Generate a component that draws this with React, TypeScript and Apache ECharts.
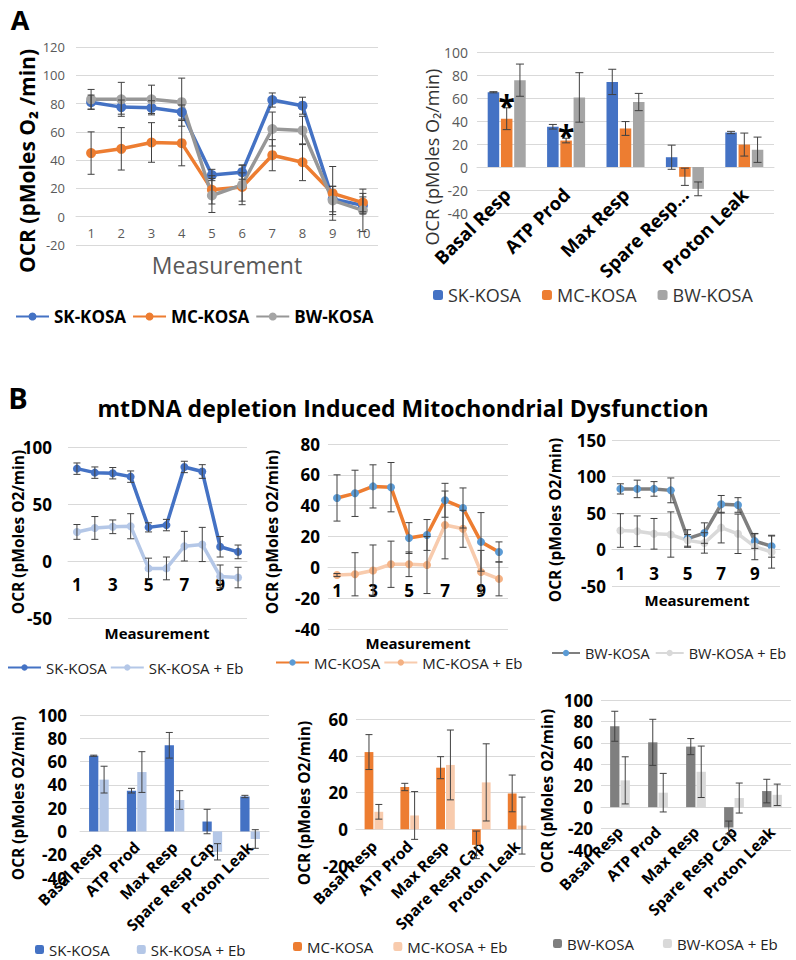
import React, { useEffect, useRef } from 'react';
import * as echarts from 'echarts';

const FONT = "'Open Sans', sans-serif";

const measurements = ['1', '2', '3', '4', '5', '6', '7', '8', '9', '10'];
const params = ['Basal Resp', 'ATP Prod', 'Max Resp', 'Spare Resp Cap', 'Proton Leak'];

// Panel A / B line data (OCR per measurement)
const skLine = [81, 77.5, 77, 74, 29.5, 31.5, 82.5, 78.5, 12.5, 8];
const skLineErr = [5, 5, 5, 5, 4, 5, 5, 6, 9, 6];
const mcLine = [45, 48, 52.5, 52, 19, 21, 43.5, 38.5, 16.5, 10];
const mcLineErr = [15, 15, 14, 16, 10, 10, 11, 13, 19, 6.5];
const bwLine = [83, 83, 83, 81, 15, 22.5, 62, 61, 11.5, 4.5];
const bwLineErr = [7, 12, 10, 17, 12, 14, 12, 10, 10, 15];
const skEbLine = [25.5, 29, 30, 30.5, -6.5, -6.5, 13, 14.5, -13.5, -14.5];
const skEbLineErr = [6.5, 10, 6, 11, 9, 10, 13, 15, 10, 9];
const mcEbLine = [-5, -4.5, -2, 2, 2, 1.5, 27.5, 25, -3, -7.5];
const mcEbLineErr = [1, 14, 16.5, 15, 8, 18.5, 22, 12, 14, 11];
const bwEbLine = [26, 25, 21.5, 20.5, 12.5, 9, 30, 21.5, 4, -3.5];
const bwEbLineErr = [23, 21, 21, 31, 8, 14, 21, 27, 18, 22];

// Bar data (OCR per parameter)
const skBar = [65, 35, 74, 8.5, 30];
const skBarErr = [0.5, 2, 11, 10.5, 1];
const mcBar = [42, 23, 33.5, -8.5, 19.5];
const mcBarErr = [9.5, 2, 6, 7.5, 10];
const bwBar = [75.5, 60.5, 56.5, -19, 15];
const bwBarErr = [14, 21.5, 7.5, 6, 11];
const skEbBar = [44.5, 51, 27, -17.5, -6.5];
const skEbBarErr = [11.5, 17.5, 8, 7, 8];
const mcEbBar = [9.5, 7.5, 35, 25.5, 2];
const mcEbBarErr = [4, 13, 19, 21, 15.5];
const bwEbBar = [25, 13.5, 33, 8.5, 11.5];
const bwEbBarErr = [22, 18, 24, 14, 10];

// significance marks (category index, value where the star sits)
const starCats = [0, 1];
const starVals = [56, 30];

// axis ranges [min, max, interval]
const yRanges = [
  [-20, 120, 20],
  [-40, 100, 20],
  [-50, 100, 50],
  [-40, 80, 20],
  [-50, 150, 50],
  [-40, 100, 20],
  [-20, 60, 20],
  [-40, 100, 20],
];

const grids = [
  { left: 76, top: 47, width: 302, height: 198 },
  { left: 477, top: 52, width: 297, height: 161 },
  { left: 68, top: 447, width: 179, height: 171 },
  { left: 328, top: 444, width: 180, height: 185 },
  { left: 612, top: 440, width: 168, height: 146 },
  { left: 80, top: 715, width: 189, height: 163 },
  { left: 356, top: 719, width: 179, height: 147 },
  { left: 601, top: 700, width: 190, height: 150 },
];

const strip = (n: string) => n.split('|')[0];

function errSeries(grid: number, vals: number[], errs: number[], nBars: number, idx: number, catGap: number, barGap: number, cap: number, color: string) {
  return {
    type: 'custom',
    xAxisIndex: grid,
    yAxisIndex: grid,
    z: 5,
    silent: true,
    data: vals.map((v, i) => [i, v, errs[i]]),
    encode: { x: 0, y: 1 },
    renderItem: (_p: any, api: any) => {
      const i = api.value(0);
      const v = api.value(1);
      const e = api.value(2);
      const p1 = api.coord([i, v + e]);
      const p2 = api.coord([i, v - e]);
      let off = 0;
      if (nBars > 0) {
        const band = api.size([1, 0])[0];
        const avail = band * (1 - catGap);
        const w = avail / (nBars + (nBars - 1) * barGap);
        off = -avail / 2 + w / 2 + idx * w * (1 + barGap);
      }
      const x = p1[0] + off;
      const style = { stroke: color, lineWidth: 1 };
      return {
        type: 'group',
        children: [
          { type: 'line', shape: { x1: x, y1: p1[1], x2: x, y2: p2[1] }, style },
          { type: 'line', shape: { x1: x - cap, y1: p1[1], x2: x + cap, y2: p1[1] }, style },
          { type: 'line', shape: { x1: x - cap, y1: p2[1], x2: x + cap, y2: p2[1] }, style },
        ],
      };
    },
  };
}

function lineSeries(name: string, grid: number, data: number[], lineColor: string, markerColor: string, width: number, size: number) {
  return {
    type: 'line',
    name,
    xAxisIndex: grid,
    yAxisIndex: grid,
    data,
    symbol: 'circle',
    symbolSize: size,
    showSymbol: true,
    lineStyle: { color: lineColor, width },
    itemStyle: { color: markerColor },
    z: 3,
  };
}

function barSeries(name: string, grid: number, data: number[], color: string, catGap: number, barGap: number) {
  return {
    type: 'bar',
    name,
    xAxisIndex: grid,
    yAxisIndex: grid,
    data,
    itemStyle: { color },
    barCategoryGap: catGap * 100 + '%',
    barGap: barGap * 100 + '%',
  };
}

const txt = (text: string, x: number, y: number, font: string, fill: string, rotate = false) => ({
  type: 'text',
  x,
  y,
  rotation: rotate ? Math.PI / 2 : 0,
  silent: true,
  style: { text, font, fill, align: 'center', verticalAlign: 'middle' },
});

function buildOption() {
  const lineGrids = [0, 2, 3, 4];
  const yLabelMargins = [11, 9, 16, 8, 6, 13, 8, 8];
  const barLabelMargins: Record<number, number> = { 1: 24, 5: 13, 6: 14, 7: 22 };
  const xAxes = grids.map((gr, g) => {
    const [mn, mx] = yRanges[g];
    // place the category axis on the zero line
    const zeroOffset = -gr.height * (0 - mn) / (mx - mn);
    const isLine = lineGrids.includes(g);
    if (isLine) {
      return {
        type: 'category',
        gridIndex: g,
        position: 'bottom',
        offset: zeroOffset,
        data: measurements,
        boundaryGap: true,
        axisLine: { show: true, onZero: false, lineStyle: { color: '#D9D9D9' } },
        axisTick: { show: false },
        axisLabel: g === 0
          ? { interval: 0, fontSize: 13, color: '#595959', margin: 10, fontFamily: FONT }
          : { interval: 1, fontSize: 17, fontWeight: 'bold', color: '#000', margin: 15, fontFamily: FONT },
      };
    }
    return {
      type: 'category',
      gridIndex: g,
      position: 'bottom',
      offset: zeroOffset,
      data: params,
      axisLine: { show: true, onZero: false, lineStyle: { color: '#D9D9D9' } },
      axisTick: { show: false },
      axisLabel: g === 1
        ? {
            interval: 0, rotate: 45, fontSize: 18.5, fontWeight: 'bold', color: '#000', margin: barLabelMargins[g], fontFamily: FONT,
            formatter: (v: string) => (v === 'Spare Resp Cap' ? 'Spare Resp\u2026' : v),
          }
        : { interval: 0, rotate: 45, fontSize: 15.5, fontWeight: 'bold', color: '#000', margin: barLabelMargins[g], fontFamily: FONT },
    };
  });
  const yAxes = grids.map((_, g) => ({
    type: 'value',
    gridIndex: g,
    min: yRanges[g][0],
    max: yRanges[g][1],
    interval: yRanges[g][2],
    axisLine: { show: false },
    axisTick: { show: false },
    splitLine: { lineStyle: { color: '#D9D9D9', width: 1 } },
    axisLabel: g === 0
      ? { fontSize: 13, color: '#595959', margin: yLabelMargins[g], fontFamily: FONT }
      : g === 1
        ? { fontSize: 14, color: '#595959', margin: yLabelMargins[g], fontFamily: FONT }
        : { fontSize: 17, fontWeight: 'bold', color: '#000', margin: yLabelMargins[g], fontFamily: FONT },
  }));

  const A_CAT = 0.36, A_GAP = 0.15, B_CAT = 0.48, B_GAP = 0.12;
  const EC = '#404040';

  const series: any[] = [
    // A line
    lineSeries('SK-KOSA|A', 0, skLine, '#4472C4', '#4472C4', 3.5, 10),
    lineSeries('MC-KOSA|A', 0, mcLine, '#ED7D31', '#ED7D31', 3.5, 10),
    lineSeries('BW-KOSA|A', 0, bwLine, '#979797', '#A5A5A5', 3.5, 10),
    errSeries(0, skLine, skLineErr, 0, 0, 0, 0, 3.5, EC),
    errSeries(0, mcLine, mcLineErr, 0, 0, 0, 0, 3.5, EC),
    errSeries(0, bwLine, bwLineErr, 0, 0, 0, 0, 3.5, EC),
    // A bars
    barSeries('SK-KOSA|Ab', 1, skBar, '#4472C4', A_CAT, A_GAP),
    barSeries('MC-KOSA|Ab', 1, mcBar, '#ED7D31', A_CAT, A_GAP),
    barSeries('BW-KOSA|Ab', 1, bwBar, '#A5A5A5', A_CAT, A_GAP),
    errSeries(1, skBar, skBarErr, 3, 0, A_CAT, A_GAP, 4, EC),
    errSeries(1, mcBar, mcBarErr, 3, 1, A_CAT, A_GAP, 4, EC),
    errSeries(1, bwBar, bwBarErr, 3, 2, A_CAT, A_GAP, 4, EC),
    {
      type: 'custom',
      xAxisIndex: 1,
      yAxisIndex: 1,
      z: 6,
      silent: true,
      data: starCats.map((c, i) => [c, starVals[i]]),
      encode: { x: 0, y: 1 },
      renderItem: (_p: any, api: any) => {
        const pt = api.coord([api.value(0), api.value(1)]);
        return {
          type: 'text',
          x: pt[0],
          y: pt[1] + 3,
          style: { text: '*', font: `bold 30px ${FONT}`, fill: '#000', align: 'center', verticalAlign: 'middle' },
        };
      },
    },
    // B1
    lineSeries('SK-KOSA|B1', 2, skLine, '#4472C4', '#4472C4', 3.5, 8),
    lineSeries('SK-KOSA + Eb|B1', 2, skEbLine, '#B4C7E7', '#B4C7E7', 3.5, 8),
    errSeries(2, skLine, skLineErr, 0, 0, 0, 0, 3.5, EC),
    errSeries(2, skEbLine, skEbLineErr, 0, 0, 0, 0, 3.5, EC),
    // B2
    lineSeries('MC-KOSA|B2', 3, mcLine, '#ED7D31', '#5B9BD5', 3.5, 8),
    lineSeries('MC-KOSA + Eb|B2', 3, mcEbLine, '#F8CBAD', '#F4B183', 3.5, 8),
    errSeries(3, mcLine, mcLineErr, 0, 0, 0, 0, 3.5, EC),
    errSeries(3, mcEbLine, mcEbLineErr, 0, 0, 0, 0, 3.5, EC),
    // B3
    lineSeries('BW-KOSA|B3', 4, bwLine, '#7F7F7F', '#5B9BD5', 3.5, 8),
    lineSeries('BW-KOSA + Eb|B3', 4, bwEbLine, '#D9D9D9', '#D9D9D9', 3.5, 8),
    errSeries(4, bwLine, bwLineErr, 0, 0, 0, 0, 3.5, EC),
    errSeries(4, bwEbLine, bwEbLineErr, 0, 0, 0, 0, 3.5, EC),
    // B4
    barSeries('SK-KOSA|B4', 5, skBar, '#4472C4', B_CAT, B_GAP),
    barSeries('SK-KOSA + Eb|B4', 5, skEbBar, '#B4C7E7', B_CAT, B_GAP),
    errSeries(5, skBar, skBarErr, 2, 0, B_CAT, B_GAP, 3.5, EC),
    errSeries(5, skEbBar, skEbBarErr, 2, 1, B_CAT, B_GAP, 3.5, EC),
    // B5
    barSeries('MC-KOSA|B5', 6, mcBar, '#ED7D31', B_CAT, B_GAP),
    barSeries('MC-KOSA + Eb|B5', 6, mcEbBar, '#F8CBAD', B_CAT, B_GAP),
    errSeries(6, mcBar, mcBarErr, 2, 0, B_CAT, B_GAP, 3.5, EC),
    errSeries(6, mcEbBar, mcEbBarErr, 2, 1, B_CAT, B_GAP, 3.5, EC),
    // B6
    barSeries('BW-KOSA|B6', 7, bwBar, '#7F7F7F', B_CAT, B_GAP),
    barSeries('BW-KOSA + Eb|B6', 7, bwEbBar, '#D9D9D9', B_CAT, B_GAP),
    errSeries(7, bwBar, bwBarErr, 2, 0, B_CAT, B_GAP, 3.5, EC),
    errSeries(7, bwEbBar, bwEbBarErr, 2, 1, B_CAT, B_GAP, 3.5, EC),
  ];

  const lg = (left: number, top: number, data: string[], iw: number, ih: number, gap: number, fs: number, fw: string, color: string, width = 300) => ({
    left, top, width, padding: 0, orient: 'horizontal', itemWidth: iw, itemHeight: ih, itemGap: gap,
    data, formatter: strip, selectedMode: false,
    textStyle: { fontSize: fs, fontWeight: fw, color, fontFamily: FONT },
  });

  const legend = [
    lg(15, 308, ['SK-KOSA|A', 'MC-KOSA|A', 'BW-KOSA|A'], 33, 10, 6, 17, 'bold', '#000', 420),
    lg(433, 286, ['SK-KOSA|Ab', 'MC-KOSA|Ab', 'BW-KOSA|Ab'], 10, 10, 21, 18, 'normal', '#333', 400),
    lg(7, 660, ['SK-KOSA|B1', 'SK-KOSA + Eb|B1'], 33, 8, 3, 15, 'normal', '#222'),
    lg(275, 655, ['MC-KOSA|B2', 'MC-KOSA + Eb|B2'], 33, 8, 3, 15, 'normal', '#222'),
    lg(551, 645.5, ['BW-KOSA|B3', 'BW-KOSA + Eb|B3'], 28, 8, 5, 14.5, 'normal', '#222'),
    lg(35, 942, ['SK-KOSA|B4', 'SK-KOSA + Eb|B4'], 9, 9, 27, 15, 'normal', '#222'),
    lg(293, 939, ['MC-KOSA|B5', 'MC-KOSA + Eb|B5'], 9, 9, 20, 15, 'normal', '#222'),
    lg(553, 936, ['BW-KOSA|B6', 'BW-KOSA + Eb|B6'], 9, 9, 29, 15, 'normal', '#222'),
  ];

  const yTitle = 'OCR (pMoles O2/min)';
  const graphic = [
    txt('A', 20, 19, `bold 27px ${FONT}`, '#000'),
    txt('B', 18, 397, `bold 29px ${FONT}`, '#000'),
    txt('mtDNA depletion Induced Mitochondrial Dysfunction', 403, 408, `bold 23px ${FONT}`, '#000'),
    txt('OCR (pMoles O\u2082 /min)', 27, 161, `bold 21px ${FONT}`, '#000', true),
    txt('Measurement', 227, 265, `23px ${FONT}`, '#595959'),
    txt('OCR (pMoles O\u2082/min)', 432, 157, `18px ${FONT}`, '#333', true),
    txt(yTitle, 18, 532, `bold 15.5px ${FONT}`, '#000', true),
    txt('Measurement', 157, 633, `bold 15px ${FONT}`, '#000'),
    txt(yTitle, 272, 532, `bold 15.5px ${FONT}`, '#000', true),
    txt('Measurement', 418, 643, `bold 15px ${FONT}`, '#000'),
    txt(yTitle, 555, 520, `bold 15.5px ${FONT}`, '#000', true),
    txt('Measurement', 697, 600, `bold 15px ${FONT}`, '#000'),
    txt(yTitle, 18, 798, `bold 15.5px ${FONT}`, '#000', true),
    txt(yTitle, 304, 803, `bold 15.5px ${FONT}`, '#000', true),
    txt(yTitle, 547, 791, `bold 15.5px ${FONT}`, '#000', true),
  ];

  return {
    animation: false,
    backgroundColor: '#fff',
    textStyle: { fontFamily: FONT },
    grid: grids,
    xAxis: xAxes,
    yAxis: yAxes,
    legend,
    series,
    graphic,
  };
}

export default function App() {
  const ref = useRef<HTMLDivElement>(null);
  useEffect(() => {
    if (!ref.current) return;
    const chart = echarts.init(ref.current, null, { renderer: 'svg' });
    chart.setOption(buildOption() as any);
    return () => chart.dispose();
  }, []);
  return (
    <div
      ref={ref}
      style={{ position: 'absolute', left: 0, top: 0, width: 796, height: 960, background: '#fff' }}
    />
  );
}
